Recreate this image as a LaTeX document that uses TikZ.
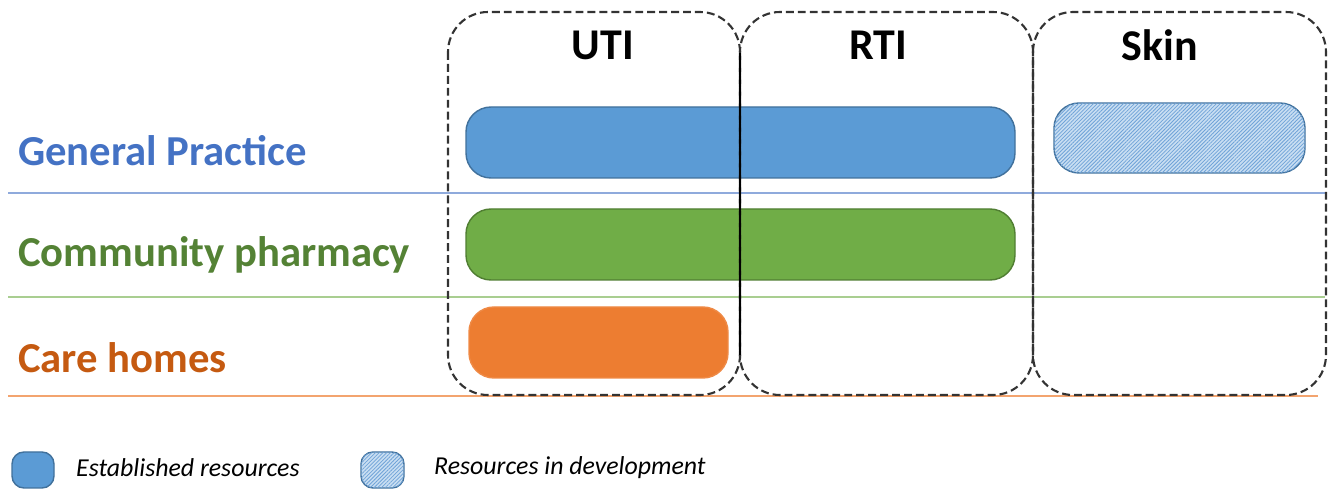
\documentclass[tikz,border=0pt]{standalone}
\usepackage{fontspec}
\setmainfont{Carlito}
\usetikzlibrary{patterns.meta}

\definecolor{gpblue}{HTML}{4472C4}
\definecolor{cpgreen}{HTML}{548235}
\definecolor{chorange}{HTML}{C55A11}
\definecolor{barblue}{HTML}{5B9BD5}
\definecolor{barblueedge}{HTML}{41719C}
\definecolor{bargreen}{HTML}{70AD47}
\definecolor{bargreenedge}{HTML}{507E32}
\definecolor{barorange}{HTML}{ED7D31}
\definecolor{hatchfill}{HTML}{C9DEF2}
\definecolor{hatchline}{HTML}{6FA3D8}

\tikzset{
  zone/.style={line width=1.2pt, black!80, rounded corners=0.8cm, dash pattern=on 4.5pt off 2.3pt},
  bar/.style={rounded corners=0.5cm, line width=0.8pt},
  hatched/.style={bar, draw=barblueedge, fill=hatchfill,
    postaction={pattern={Lines[angle=45,distance=1.5pt,line width=0.45pt]}, pattern color=hatchline}},
  rowlabel/.style={anchor=west, font=\bfseries\fontsize{24.3}{28}\selectfont},
  zonelabel/.style={font=\bfseries\fontsize{25}{30}\selectfont},
  keylabel/.style={anchor=west, font=\itshape\fontsize{14.7}{17}\selectfont}
}

\begin{document}
\begin{tikzpicture}[x=0.02cm, y=-0.02cm]
\useasboundingbox (0,0) rectangle (1330,489);
% row separators
\draw[gpblue!60, line width=0.6pt] (8,193) -- (1325,193);
\draw[bargreen!60, line width=0.6pt] (8,297) -- (1325,297);
\draw[barorange!70, line width=1.6pt] (8,396) -- (1318,396);
% bars
\draw[bar, draw=barblueedge, fill=barblue] (466,107) rectangle (1015,178);
\draw[bar, draw=bargreenedge, fill=bargreen] (466,209) rectangle (1015,280);
\draw[bar, draw=barorange!90!white, fill=barorange] (469,307) rectangle (728,378);
\draw[hatched] (1054,103) rectangle (1305,173);
% condition zones
\draw[zone] (448,12) rectangle (740,395);
\draw[zone] (740,12) rectangle (1033,395);
\draw[zone, dash phase=2pt] (1033,12) rectangle (1326,395);
\draw[black, line width=1pt] (740,53) -- (740,355);
\node[zonelabel] (uti) at (603,45) {UTI};
\node[zonelabel] (rti) at (878,45) {RTI};
\node[zonelabel] (skin) at (1160,45) {Skin};
% settings
\node[rowlabel, text=gpblue] (gp) at (12,151) {General Practice};
\node[rowlabel, text=cpgreen] (cp) at (12,255) {Community pharmacy};
\node[rowlabel, text=chorange] (ch) at (12,358) {Care homes};
% key
\draw[bar, rounded corners=0.24cm, draw=barblueedge, fill=barblue] (12,452) rectangle (54,488);
\node[keylabel] (est) at (70,468) {Established resources};
\draw[hatched, rounded corners=0.24cm] (361,452) rectangle (404,488);
\node[keylabel] (dev) at (428,468) {Resources in development};
\end{tikzpicture}
\end{document}
